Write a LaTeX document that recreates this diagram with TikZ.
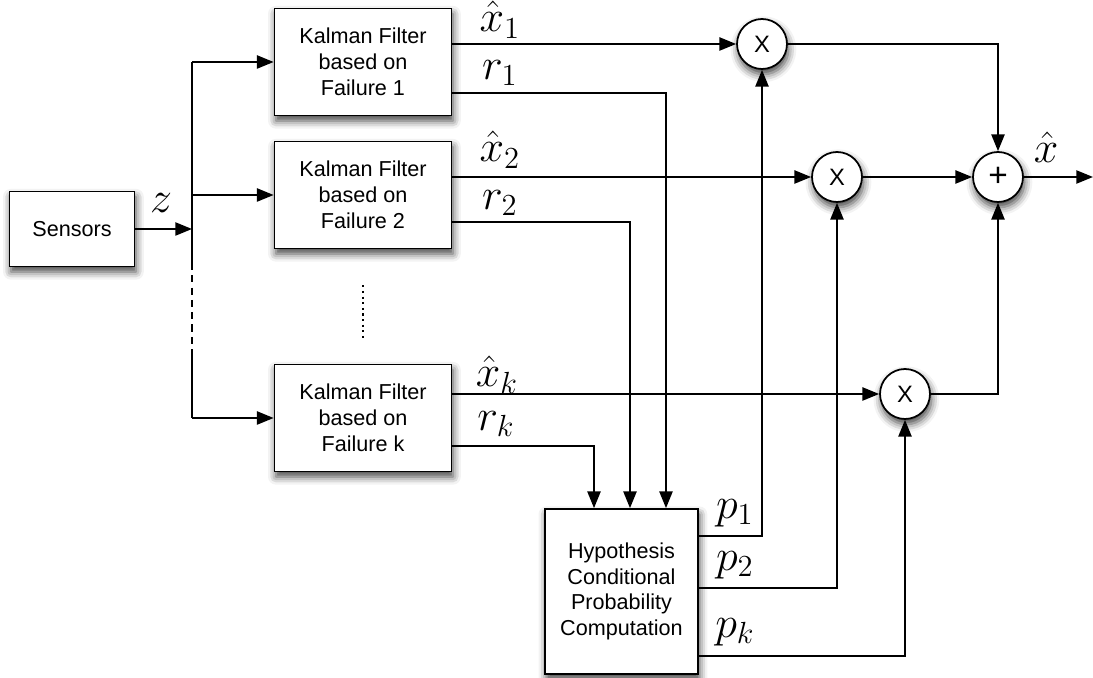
\documentclass[tikz,border=0pt]{standalone}
\usepackage{amsmath}
\usepackage[no-math]{fontspec}
\newfontfamily\arialfont{Liberation Sans}
\usepackage{tikz}
\usetikzlibrary{shadows.blur}
\usetikzlibrary{arrows.meta}

\begin{document}
\begin{tikzpicture}[x = 0.02cm, y = -0.02cm, line width = 1pt,
	shade/.style = {blur shadow = {shadow xshift = 0.8pt, shadow yshift = -3pt, shadow blur radius = 4.5pt, shadow opacity = 75}},
	block/.style = {draw, fill = white, shade, align = center, font = \arialfont\fontsize{12.3}{14.7}\selectfont},
	kf/.style = {block, minimum width = 3.54cm, minimum height = 2.14cm},
	junct/.style = {draw, fill = white, shade, circle, minimum size = 1cm, inner sep = 0pt, font = \arialfont\fontsize{13.5}{16}\selectfont},
	arr/.style = {-{Triangle[length = 9.5pt, width = 7.5pt]}},
	lbl/.style = {font = \LARGE, scale = 1.45, inner sep = 0pt}]
	\useasboundingbox (0, 0) rectangle (1093, 678);
	% blocks
	\node[block, minimum width = 2.5cm, minimum height = 1.5cm] (sens) at (72, 229) {Sensors};
	\foreach \n/\y in {1/62, 2/195, k/418}{
		\node[kf] (kf\n) at (363, \y) {Kalman Filter\\based on\\Failure \n};}
	\node[block, minimum width = 3.06cm, minimum height = 3.3cm] (hyp) at (621.5, 591.5) {Hypothesis\\Conditional\\Probability\\Computation};
	\foreach \n/\i/\j/\s in {1/762/44/X, 2/837/177/X, k/905/394/X, sum/998/177/{\fontsize{19}{20}\selectfont+}}{
		\node[junct] (m\n) at (\i, \j) {\s};}
	\coordinate (bus) at (192, 229);
	\coordinate (out) at (1093, 177);
	% sensor bus
	\draw[arr] (sens) -- (bus);
	\draw (bus |- kf1.west) -- (bus |- 0, 263);
	\draw[dashed, dash pattern = on 4pt off 3pt] (bus |- 0, 263) -- (bus |- 0, 355);
	\draw (bus |- 0, 355) -- (bus |- kfk.west);
	\foreach \n in {1, 2, k}{
		\draw[arr] (bus |- kf\n.west) -- (kf\n.west);
		\draw[arr] (kf\n.east |- m\n) -- (m\n);}
	\draw[dotted, line width = 1.2pt] ([yshift = -0.72cm]kf2.south) -- ([yshift = 0.46cm]kfk.north);
	% residuals
	\draw[arr] ([yshift = -0.62cm]kf1.east) -| ([xshift = 0.89cm]hyp.north);
	\draw[arr] ([yshift = -0.54cm]kf2.east) -| ([xshift = 0.17cm]hyp.north);
	\draw[arr] ([yshift = -0.56cm]kfk.east) -| ([xshift = -0.55cm]hyp.north);
	% probabilities
	\draw[arr] ([yshift = 1.11cm]hyp.east) -| (m1);
	\draw[arr] ([yshift = 0.07cm]hyp.east) -| (m2);
	\draw[arr] ([yshift = -1.29cm]hyp.east) -| (mk);
	% sum
	\draw[arr] (m1) -| (msum);
	\draw[arr] (m2) -- (msum);
	\draw[arr] (mk) -| (msum);
	\draw[arr] (msum) -- (out);
	% labels
	\foreach \name/\i/\j/\t in {z/161/203/z, xh1/500/20/\hat{x}_1, r1/500/73/r_1, xh2/500/150/\hat{x}_2, r2/500/203/r_2, xhk/497/375/\hat{x}_k, rk/496/424/r_k, p1/735/513/p_1, p2/735/565/p_2, pk/735/632/p_k, xh/1046/147/\hat{x}}{
		\node[lbl] (l\name) at (\i, \j) {$\t$};}
\end{tikzpicture}
\end{document}
